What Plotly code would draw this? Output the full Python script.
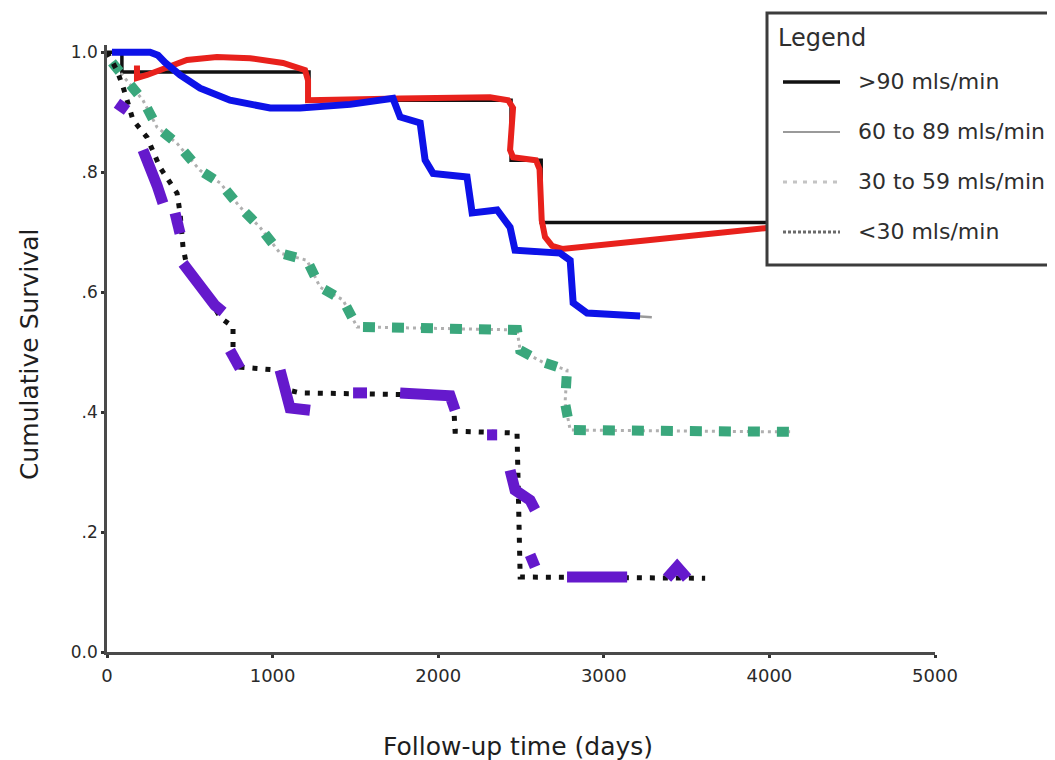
import plotly.graph_objects as go

# ---------------- data (days, cumulative survival) ----------------
x_ticks = [0, 1000, 2000, 3000, 4000, 5000]
x_ticklabels = ["0", "1000", "2000", "3000", "4000", "5000"]
y_ticks = [0.0, 0.2, 0.4, 0.6, 0.8, 1.0]
y_ticklabels = ["0.0", ".2", ".4", ".6", ".8", "1.0"]

legend_labels = [">90 mls/min", "60 to 89 mls/min", "30 to 59 mls/min", "<30 mls/min"]

# >90 mls/min (KM step line)
gt90_days = [0, 90, 90, 1220, 1220, 2440, 2440, 2622, 2622, 3990]
gt90_surv = [1.0, 1.0, 0.967, 0.967, 0.92, 0.92, 0.82, 0.82, 0.716, 0.716]

# 60 to 89 mls/min (KM line, lies under the blue highlight)
g6089_days = [30, 260, 350, 562, 743, 985, 1166, 1468, 1727, 1770, 1891, 1921, 1969, 2174, 2205,
              2356, 2434, 2464, 2736, 2797, 2815, 2899, 3290]
g6089_surv = [1.0, 1.0, 0.983, 0.94, 0.92, 0.907, 0.907, 0.913, 0.923, 0.892, 0.882, 0.820, 0.798,
              0.792, 0.732, 0.737, 0.708, 0.670, 0.665, 0.653, 0.582, 0.565, 0.558]

# red highlight (>90 group)
red_days = [181, 181, 242, 362, 483, 664, 864, 1063, 1196, 1214, 1214, 1770, 2313, 2422, 2452,
            2434, 2452, 2590, 2612, 2625, 2645, 2688, 2748, 3280, 3986]
red_surv = [0.978, 0.957, 0.962, 0.975, 0.987, 0.992, 0.990, 0.982, 0.970, 0.953, 0.920, 0.923,
            0.925, 0.920, 0.907, 0.837, 0.825, 0.820, 0.805, 0.720, 0.692, 0.677, 0.672, 0.687, 0.707]

# blue highlight (60-89 group)
blue_days = [30, 260, 308, 350, 441, 562, 743, 985, 1166, 1468, 1727, 1770, 1891, 1921, 1969,
             2174, 2205, 2356, 2434, 2464, 2736, 2797, 2815, 2899, 3219]
blue_surv = [1.0, 1.0, 0.995, 0.983, 0.962, 0.94, 0.92, 0.907, 0.907, 0.913, 0.923, 0.892, 0.882,
             0.820, 0.798, 0.792, 0.732, 0.737, 0.708, 0.670, 0.665, 0.653, 0.582, 0.565, 0.560]

# 30 to 59 mls/min (green highlight over light dotted KM line)
g3059_days = [30, 121, 217, 302, 423, 562, 683, 803, 924, 1045, 1208, 1287, 1425, 1510, 2476,
              2495, 2633, 2778, 2766, 2797, 4125]
g3059_surv = [0.983, 0.953, 0.92, 0.875, 0.848, 0.803, 0.782, 0.742, 0.708, 0.665, 0.653, 0.608,
              0.587, 0.542, 0.537, 0.503, 0.483, 0.47, 0.415, 0.37, 0.367]

# <30 mls/min (dark dotted KM line)
lt30_days = [0, 60, 97, 157, 242, 320, 423, 441, 459, 483, 592, 683, 761, 761, 803, 1027, 1087,
             1166, 2090, 2102, 2476, 2495, 3612]
lt30_surv = [1.0, 0.97, 0.942, 0.887, 0.858, 0.808, 0.765, 0.732, 0.675, 0.642, 0.603, 0.558,
             0.542, 0.503, 0.475, 0.47, 0.437, 0.432, 0.428, 0.368, 0.365, 0.125, 0.123]

# purple highlight segments (<30 group); None separates segments
purple_days = [60, 121, None,
               217, 260, 302, 338, None,
               411, 441, None,
               459, 532, 592, 652, 701, None,
               743, 803, None,
               1045, 1075, 1105, 1226, None,
               1486, 1570, None,
               1770, 2072, 2102, None,
               2295, 2356, None,
               2434, 2464, 2555, 2585, None,
               2555, 2585, None,
               2778, 3141, None,
               3382, 3443, 3503]
purple_surv = [0.915, 0.903, None,
               0.837, 0.812, 0.778, 0.748, None,
               0.732, 0.698, None,
               0.648, 0.62, 0.595, 0.578, 0.567, None,
               0.503, 0.473, None,
               0.47, 0.428, 0.407, 0.403, None,
               0.432, 0.432, None,
               0.432, 0.427, 0.403, None,
               0.362, 0.362, None,
               0.303, 0.27, 0.253, 0.237, None,
               0.162, 0.142, None,
               0.125, 0.125, None,
               0.123, 0.142, 0.123]

FONT = "DejaVu Sans"

fig = go.Figure()

# underlying KM lines
fig.add_trace(go.Scatter(x=g6089_days, y=g6089_surv, mode="lines",
                         line=dict(color="#9a9a9a", width=2.5), showlegend=False))
fig.add_trace(go.Scatter(x=gt90_days, y=gt90_surv, mode="lines",
                         line=dict(color="#111111", width=3.5), showlegend=False))
fig.add_trace(go.Scatter(x=g3059_days, y=g3059_surv, mode="lines",
                         line=dict(color="#b0b0b0", width=3, dash="3px,4px"), showlegend=False))
# highlights
fig.add_trace(go.Scatter(x=red_days, y=red_surv, mode="lines",
                         line=dict(color="#e8211c", width=6), showlegend=False))
fig.add_trace(go.Scatter(x=blue_days, y=blue_surv, mode="lines",
                         line=dict(color="#0d12e8", width=7), showlegend=False))
fig.add_trace(go.Scatter(x=g3059_days, y=g3059_surv, mode="lines",
                         line=dict(color="#3aa77c", width=10, dash="12px,17px"), showlegend=False))
fig.add_trace(go.Scatter(x=lt30_days, y=lt30_surv, mode="lines",
                         line=dict(color="#111111", width=5, dash="5px,8px"), showlegend=False))
fig.add_trace(go.Scatter(x=purple_days, y=purple_surv, mode="lines", connectgaps=False,
                         line=dict(color="#6519cc", width=11), showlegend=False))

# page-pixel -> paper helpers for the drawn legend box (plot area on page: x 107..935, y 45..652)
def px(x):
    return (x - 107) / 828.0

def py(y):
    return (652 - y) / 607.0

shapes = [
    dict(type="rect", xref="paper", yref="paper", x0=px(767), x1=px(1085), y0=py(265), y1=py(13),
         line=dict(color="#3c3c3c", width=3), fillcolor="white", layer="above"),
]
sample_styles = [
    dict(color="#111111", width=3.5, dash="solid"),
    dict(color="#9a9a9a", width=2, dash="solid"),
    dict(color="#c4c4c4", width=3, dash="4px,6px"),
    dict(color="#6a6a6a", width=3, dash="3px,2px"),
]
rows_y = [82, 132, 182, 232]
annotations = [
    dict(text="Legend", x=px(776), y=py(38), xref="paper", yref="paper", xanchor="left",
         yanchor="middle", showarrow=False, font=dict(family=FONT, size=24, color="#2e2e2e")),
]
for lab, st, ry in zip(legend_labels, sample_styles, rows_y):
    shapes.append(dict(type="line", xref="paper", yref="paper", x0=px(783), x1=px(840),
                       y0=py(ry), y1=py(ry), line=st, layer="above"))
    annotations.append(dict(text=lab, x=px(856), y=py(ry - 1), xref="paper", yref="paper",
                            xanchor="left", yanchor="middle", showarrow=False,
                            font=dict(family=FONT, size=22, color="#2e2e2e")))

# axis titles
annotations.append(dict(text="Follow-up time (days)", x=px(518), y=py(746), xref="paper", yref="paper",
                        xanchor="center", yanchor="middle", showarrow=False,
                        font=dict(family=FONT, size=25, color="#1e1e1e")))
annotations.append(dict(text="Cumulative Survival", x=px(30), y=py(355), xref="paper", yref="paper",
                        xanchor="center", yanchor="middle", showarrow=False, textangle=-90,
                        font=dict(family=FONT, size=25, color="#1e1e1e")))

# the page has an 8px body margin, so the figure's own margins are 8px smaller on left/top
fig.update_layout(
    width=1055, height=760, autosize=False,
    margin=dict(l=99, r=128, t=37, b=116),
    paper_bgcolor="white", plot_bgcolor="white",
    shapes=shapes, annotations=annotations,
    xaxis=dict(range=[0, 5000], tickvals=x_ticks, ticktext=x_ticklabels,
               showgrid=False, zeroline=False, showline=True, linecolor="#4a4a4a", linewidth=2.5,
               ticks="outside", ticklen=3, tickwidth=3, tickcolor="#333333", ticklabelstandoff=3,
               tickfont=dict(family=FONT, size=18, color="#2a2a2a")),
    yaxis=dict(range=[0, 1.012], tickvals=y_ticks, ticktext=y_ticklabels,
               showgrid=False, zeroline=False, showline=True, linecolor="#4a4a4a", linewidth=2.5,
               ticks="outside", ticklen=3, tickwidth=3, tickcolor="#333333",
               tickfont=dict(family=FONT, size=17, color="#2a2a2a")),
)

fig.write_html("out.html")
